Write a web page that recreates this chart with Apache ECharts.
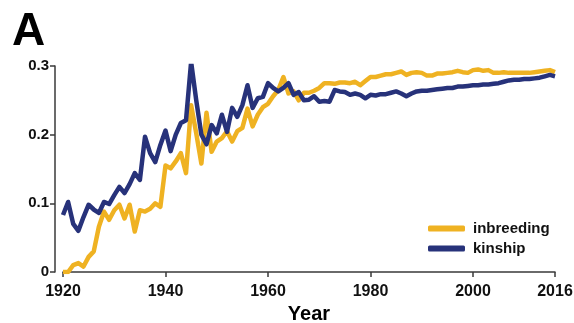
<!DOCTYPE html>
<html>
<head>
<meta charset="utf-8">
<script src="https://cdn.jsdelivr.net/npm/echarts@6/dist/echarts.min.js"></script>
<style>html,body{margin:0;padding:0;background:#fff;}#c{width:574px;height:323px;}</style>
</head>
<body>
<div id="c"></div>
<script>
var startYear = 1920;
var endYear = 2016;
var xTicks = [1920, 1940, 1960, 1980, 2000, 2016];
var yTicks = [0, 0.1, 0.2, 0.3];
var seriesNames = ['inbreeding', 'kinship'];

var inbreeding = [
  0.000,0.000,0.010,0.013,0.008,0.022,0.030,0.066,0.088,0.076,
  0.090,0.098,0.078,0.098,0.059,0.090,0.088,0.092,0.100,0.095,
  0.155,0.151,0.161,0.173,0.144,0.243,0.202,0.158,0.232,0.175,
  0.190,0.195,0.205,0.190,0.205,0.210,0.238,0.212,0.229,0.240,
  0.245,0.256,0.265,0.284,0.260,0.263,0.250,0.261,0.261,0.264,
  0.268,0.275,0.275,0.274,0.276,0.276,0.275,0.277,0.272,0.278,
  0.284,0.284,0.286,0.288,0.288,0.290,0.292,0.287,0.290,0.291,
  0.290,0.286,0.286,0.289,0.289,0.290,0.291,0.293,0.291,0.290,
  0.294,0.295,0.293,0.294,0.290,0.290,0.291,0.290,0.290,0.290,
  0.290,0.290,0.291,0.292,0.293,0.294,0.291
];
var kinship = [
  0.083,0.102,0.070,0.060,0.080,0.098,0.091,0.086,0.102,0.099,
  0.112,0.124,0.115,0.128,0.144,0.134,0.197,0.173,0.160,0.185,
  0.206,0.176,0.200,0.217,0.221,0.306,0.250,0.200,0.186,0.214,
  0.202,0.229,0.204,0.239,0.226,0.243,0.272,0.239,0.253,0.255,
  0.275,0.268,0.263,0.268,0.275,0.258,0.262,0.250,0.251,0.256,
  0.248,0.249,0.248,0.265,0.263,0.262,0.258,0.260,0.258,0.253,
  0.258,0.257,0.259,0.259,0.261,0.263,0.260,0.256,0.260,0.263,
  0.264,0.264,0.265,0.266,0.267,0.268,0.268,0.270,0.270,0.271,
  0.272,0.272,0.273,0.273,0.274,0.275,0.277,0.279,0.280,0.280,
  0.281,0.281,0.282,0.283,0.285,0.287,0.285
];

function pairs(vals){
  var out = [];
  for (var i = 0; i < vals.length; i++) out.push([startYear + i, vals[i]]);
  return out;
}

var FONT = "'Liberation Sans', Arial, sans-serif";
var AXIS_COLOR = '#3a3a3a';
var chart = echarts.init(document.getElementById('c'), null, {renderer: 'canvas'});
chart.setOption({
  animation: false,
  backgroundColor: '#fff',
  title: {
    text: 'A', left: 7, top: 4,
    textStyle: {fontFamily: FONT, fontSize: 46, fontWeight: 'bold', color: '#000'}
  },
  legend: {
    orient: 'vertical', left: 423, top: 216,
    itemWidth: 37, itemHeight: 6, itemGap: 5,
    icon: 'roundRect',
    data: seriesNames,
    textStyle: {fontFamily: FONT, fontSize: 15, fontWeight: 'bold', color: '#111', padding: [0,0,0,3]}
  },
  grid: {left: 63, right: 19, top: 66, bottom: 51, containLabel: false, outerBoundsMode: 'none'},
  xAxis: {
    type: 'value', min: startYear, max: endYear, interval: 20,
    offset: 7,
    name: 'Year', nameLocation: 'middle', nameGap: 25,
    nameTextStyle: {fontFamily: FONT, fontSize: 20, fontWeight: 'bold', color: '#000'},
    axisLine: {show: true, lineStyle: {color: AXIS_COLOR, width: 1.5}},
    axisTick: {show: true, length: 5, lineStyle: {color: AXIS_COLOR, width: 1.5},
      customValues: xTicks},
    axisLabel: {fontFamily: FONT, fontSize: 16, fontWeight: 'bold', color: '#111', margin: 5,
      customValues: xTicks, showMaxLabel: true, showMinLabel: true,
      formatter: function(v){ return String(v); }},
    splitLine: {show: false}
  },
  yAxis: {
    type: 'value', min: 0, max: 0.3, interval: 0.1,
    offset: 8,
    axisLine: {show: true, lineStyle: {color: AXIS_COLOR, width: 1.5}},
    axisTick: {show: true, length: 5, lineStyle: {color: AXIS_COLOR, width: 1.5}},
    axisLabel: {fontFamily: FONT, fontSize: 15, fontWeight: 'bold', color: '#111', margin: 6,
      formatter: function(v){ return v === 0 ? '0' : v.toFixed(1); }},
    splitLine: {show: false}
  },
  series: [
    {name: seriesNames[0], type: 'line', data: pairs(inbreeding), showSymbol: false,
      color: '#EFB222', lineStyle: {width: 4.5, color: '#EFB222', join: 'round'}},
    {name: seriesNames[1], type: 'line', data: pairs(kinship), showSymbol: false,
      color: '#27327A', lineStyle: {width: 4.5, color: '#27327A', join: 'round'}}
  ]
});
</script>
</body>
</html>
